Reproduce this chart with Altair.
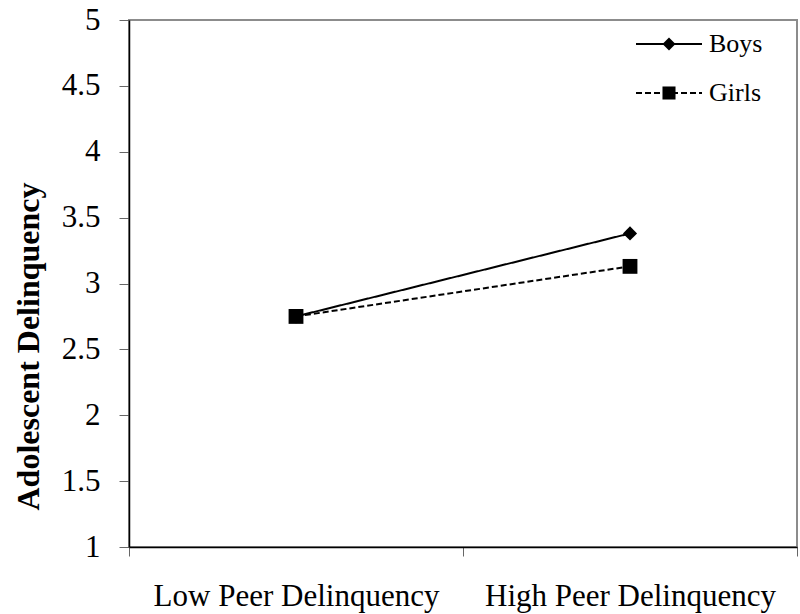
import altair as alt
import pandas as pd

categories = ["Low Peer Delinquency", "High Peer Delinquency"]
boys = [2.75, 3.38]
girls = [2.75, 3.13]
series_names = ["Boys", "Girls"]
y_ticks = [1, 1.5, 2, 2.5, 3, 3.5, 4, 4.5, 5]

rows = []
for s, vals in zip(series_names, [boys, girls]):
    for c, v in zip(categories, vals):
        rows.append({"series": s, "peer": c, "value": v})
df = pd.DataFrame(rows)

FONT = "Liberation Serif"

x_enc = alt.X(
    "peer:N",
    sort=categories,
    scale=alt.Scale(type="band", domain=categories, paddingInner=0, paddingOuter=0),
    axis=alt.Axis(
        title=None,
        labelAngle=0,
        labelFont=FONT,
        labelFontSize=31,
        labelColor="black",
        labelPadding=25,
        labelLimit=1000,
        tickBand="extent",
        tickSize=9,
        tickColor="#666",
        domainColor="black",
        domainWidth=1.5,
        grid=False,
    ),
)
y_enc = alt.Y(
    "value:Q",
    scale=alt.Scale(domain=[1, 5], nice=False, zero=False),
    axis=alt.Axis(
        values=y_ticks,
        format="~g",
        title="Adolescent Delinquency",
        titleFont=FONT,
        titleFontSize=32,
        titleFontWeight="bold",
        titleColor="black",
        titleAngle=270,
        titleAlign="center",
        titleBaseline="middle",
        titleX=-101,
        titleY=326,
        labelFont=FONT,
        labelFontSize=31,
        labelColor="black",
        labelPadding=19,
        labelLimit=1000,
        tickSize=10,
        tickColor="#666",
        domainColor="black",
        domainWidth=1.5,
        grid=False,
    ),
)

dash_scale = alt.Scale(domain=series_names, range=[[1, 0], [6, 3]])

lines = alt.Chart(df).mark_line(color="black", strokeWidth=2).encode(
    x=x_enc,
    y=y_enc,
    strokeDash=alt.StrokeDash("series:N", scale=dash_scale, legend=None),
    detail="series:N",
)

boys_pts = alt.Chart(df[df.series == "Boys"]).mark_point(
    shape="diamond", filled=True, color="black", size=200, opacity=1
).encode(x=x_enc, y=y_enc)

girls_pts = alt.Chart(df[df.series == "Girls"]).mark_point(
    shape="square", filled=True, color="black", size=220, opacity=1
).encode(x=x_enc, y=y_enc)

# manual legend (inside plot, top right)
leg_df = pd.DataFrame({"series": series_names})
leg_boys = leg_df[leg_df.series == "Boys"]
leg_girls = leg_df[leg_df.series == "Girls"]

LB_Y = 24
LG_Y = 73

lb_line = alt.Chart(leg_boys).mark_rule(color="black", strokeWidth=2).encode(
    x=alt.value(507), x2=alt.value(573), y=alt.value(LB_Y)
)
lb_pt = alt.Chart(leg_boys).mark_point(
    shape="diamond", filled=True, color="black", size=170, opacity=1
).encode(x=alt.value(540), y=alt.value(LB_Y))
lb_txt = alt.Chart(leg_boys).mark_text(
    align="left", baseline="middle", font=FONT, fontSize=26, color="black"
).encode(x=alt.value(580), y=alt.value(LB_Y), text="series:N")

lg_line = alt.Chart(leg_girls).mark_rule(
    color="black", strokeWidth=2, strokeDash=[6, 3]
).encode(x=alt.value(507), x2=alt.value(573), y=alt.value(LG_Y))
lg_pt = alt.Chart(leg_girls).mark_point(
    shape="square", filled=True, color="black", size=170, opacity=1
).encode(x=alt.value(540), y=alt.value(LG_Y))
lg_txt = alt.Chart(leg_girls).mark_text(
    align="left", baseline="middle", font=FONT, fontSize=26, color="black"
).encode(x=alt.value(580), y=alt.value(LG_Y), text="series:N")

chart = (
    alt.layer(lines, boys_pts, girls_pts, lb_line, lb_pt, lb_txt, lg_line, lg_pt, lg_txt)
    .properties(
        width=668,
        height=527,
        autosize=alt.AutoSizeParams(type="none"),
        padding={"left": 129, "top": 20, "right": 3, "bottom": 67},
        background="white",
    )
    .configure_view(stroke="#8c8c8c", strokeWidth=2)
)

chart.save("out.html", embed_options={"renderer": "svg", "actions": False})
